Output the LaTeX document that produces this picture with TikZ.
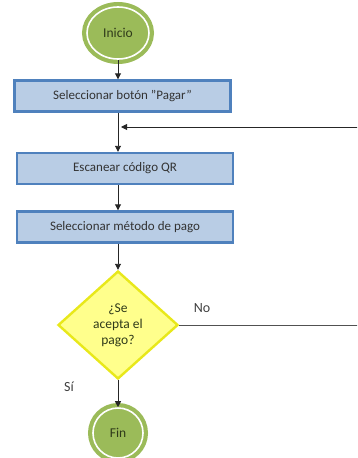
\documentclass[tikz,border=0pt]{standalone}
\usepackage{fontspec}
\setmainfont{Carlito}
\usetikzlibrary{shapes.geometric,arrows.meta}
\definecolor{termgreen}{HTML}{9BBB59}
\definecolor{termtext}{HTML}{2F3A1A}
\definecolor{boxfill}{HTML}{B9CDE5}
\definecolor{boxline}{HTML}{4F81BD}
\definecolor{decfill}{HTML}{FFFF8C}
\definecolor{decline}{HTML}{E8E81A}
\definecolor{flow}{HTML}{262626}
\begin{document}
\begin{tikzpicture}[x=1pt,y=-1pt,
  terminal/.style={ellipse, inner sep=0pt, fill=termgreen, draw=white, line width=1.6pt,
    preaction={draw=termgreen, line width=10pt}, font=\fontsize{13.5}{16}\selectfont, text=termtext},
  process/.style={rectangle, fill=boxfill, draw=boxline, line width=2.4pt,
    minimum width=216pt, minimum height=31pt, font=\fontsize{13}{15}\selectfont, text=black!80},
  decision/.style={diamond, fill=decfill, draw=decline, line width=2.4pt, inner sep=0pt,
    minimum width=120pt, minimum height=108pt, align=center,
    font=\fontsize{13.5}{16}\selectfont, text=termtext},
  flowarrow/.style={draw=flow, line width=0.9pt, -{Triangle[length=6pt,width=6pt]}},
  flowline/.style={draw=flow!80, line width=0.9pt},
  lbl/.style={font=\fontsize{14}{16}\selectfont, text=black!75}]
\clip (0,0) rectangle (357,458);

\node[terminal, minimum width=62pt, minimum height=52pt] (inicio) at (118,33) {Inicio};
\node[process] (sel) at (122.5,96) {Seleccionar botón "Pagar"};
\node[process] (scan) at (125,168.5) {Escanear código QR};
\node[process] (metodo) at (125,227) {Seleccionar método de pago};
\node[decision] (dec) at (118,325) {¿Se\\acepta el\\pago?};
\node[terminal, minimum width=50pt, minimum height=50pt] (fin) at (118,433) {Fin};

\node[lbl] (no) at (202,308) {No};
\node[lbl] (si) at (69,387) {Sí};

\coordinate (edgeNo) at (362,325);
\coordinate (edgeBack) at (362,127);
\coordinate (join) at (121,127);

\draw[flowarrow] (inicio.south) -- (inicio.south |- sel.north);
\draw[flowarrow] (sel.south -| inicio.south) -- (inicio.south |- scan.north);
\draw[flowarrow] (scan.south -| inicio.south) -- (inicio.south |- metodo.north);
\draw[flowarrow] (metodo.south -| inicio.south) -- (dec.north);
\draw[flowarrow] (dec.south) -- (fin.north);
\draw[flowline] (dec.east) -- (edgeNo) -- (edgeBack);
\draw[flowarrow] (edgeBack) -- (join);
\end{tikzpicture}
\end{document}
